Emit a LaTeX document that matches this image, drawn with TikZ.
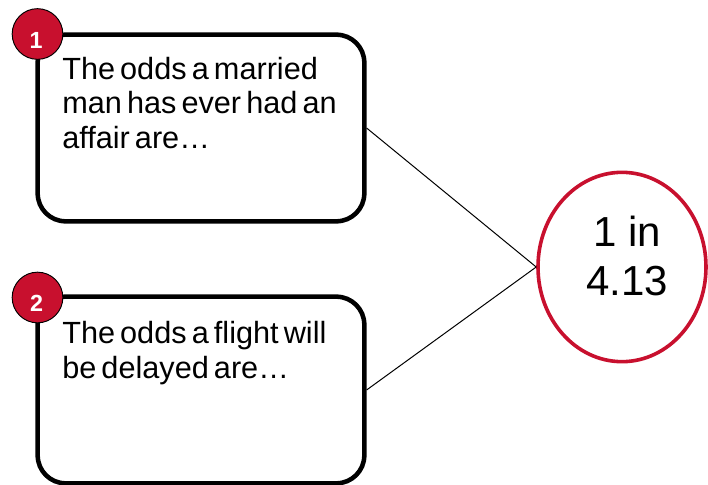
\documentclass[tikz,border=0pt]{standalone}
\usepackage{fontspec}
\setmainfont{Liberation Sans}[WordSpace=0.6]
\newfontfamily\answerfont{Liberation Sans}
\usetikzlibrary{shapes.geometric}
\definecolor{crimson}{RGB}{200,16,46}
\tikzset{
  qbox/.style={draw=black, line width=3.4pt, rounded corners=21pt, fill=white,
    minimum width=245pt, minimum height=140pt, inner sep=0pt},
  qtext/.style={anchor=base west, inner sep=0pt, align=left,
    font=\fontsize{23pt}{26pt}\selectfont},
  badge/.style={circle, draw=black, line width=0.7pt, fill=crimson,
    minimum size=38pt, inner sep=0pt},
  badgenum/.style={text=white, inner sep=0pt, font=\bfseries\fontsize{17.5pt}{19pt}\selectfont},
  answer/.style={ellipse, draw=crimson, line width=2.7pt, fill=white,
    minimum width=126pt, minimum height=142pt, inner sep=0pt},
  answertext/.style={anchor=base, inner sep=0pt, align=center,
    font=\answerfont\fontsize{31.5pt}{36pt}\selectfont},
  link/.style={draw=black, line width=0.75pt}
}
\begin{document}
\begin{tikzpicture}[x=0.75pt, y=-0.75pt]
  \useasboundingbox (0,0) rectangle (708,485);

  % question boxes
  \node[qbox] (q1) at (201,128) {};
  \node[qbox] (q2) at (201,390) {};

  % answer (text placed by the baseline of its last line)
  \node[answer] (ans) at (622,267) {};
  \node[answertext] (anstext) at (627,295) {1 in\\4.13};

  % connectors from each question to the answer
  \draw[link] (q1.east) -- (ans.west);
  \draw[link] (q2.east) -- (ans.west);

  % question texts (placed by the baseline of their last line)
  \node[qtext] (t1) at (62,148.5) {The odds a married\\man has ever had an\\affair are\ldots};
  \node[qtext] (t2) at (62,378) {The odds a flight will\\be delayed are\ldots};

  % numbered badges
  \node[badge] (b1) at (37.5,34) {};
  \node[badgenum] (b1n) at (36,40) {1};
  \node[badge] (b2) at (37.5,297.5) {};
  \node[badgenum] (b2n) at (36.5,303.5) {2};
\end{tikzpicture}
\end{document}
